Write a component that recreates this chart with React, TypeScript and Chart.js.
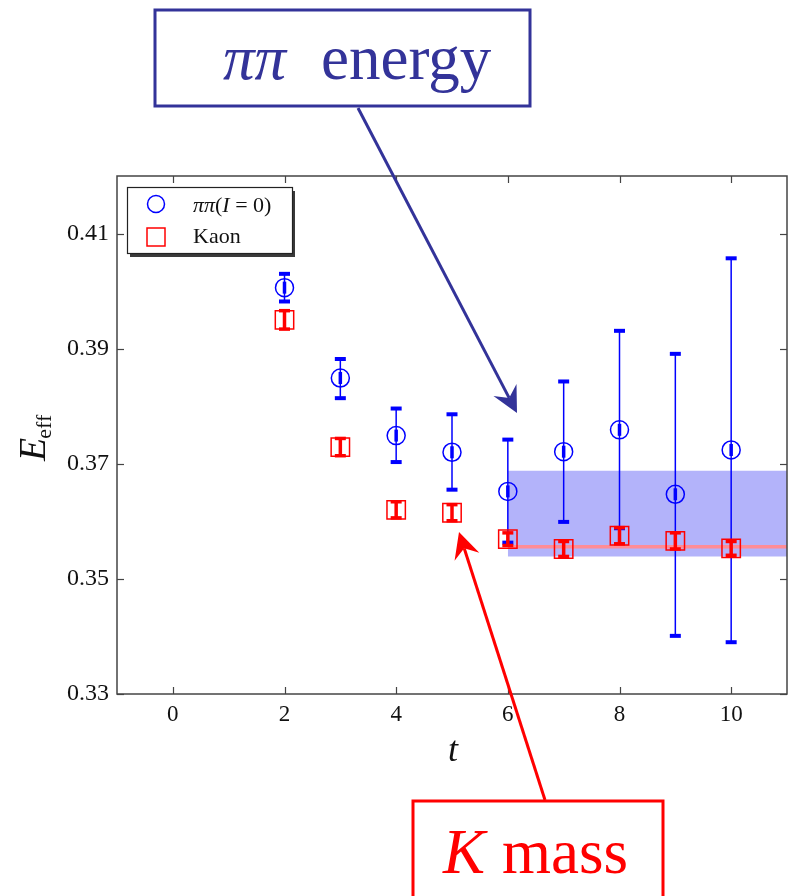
import { useEffect, useRef } from "react";
import { Chart, registerables } from "chart.js";

Chart.register(...registerables);

// ---- data ----
const tValues = [2, 3, 4, 5, 6, 7, 8, 9, 10];
const pipiE = [0.4006, 0.3849, 0.3749, 0.372, 0.3652, 0.3721, 0.3759, 0.3647, 0.3724];
const pipiHigh = [0.403, 0.3882, 0.3796, 0.3786, 0.3742, 0.3843, 0.3931, 0.3891, 0.4057];
const pipiLow = [0.3982, 0.3814, 0.3703, 0.3655, 0.3563, 0.3599, 0.3588, 0.3401, 0.339];
const kaonE = [0.395, 0.3729, 0.362, 0.3615, 0.3569, 0.3552, 0.3575, 0.3566, 0.3553];
const kaonErr = [0.0016, 0.0015, 0.0014, 0.0014, 0.0011, 0.0013, 0.0014, 0.0014, 0.0012];
const fitRange = [6, 11];
const kaonFit = 0.3556;
const pipiBand = [0.3539, 0.3688];
const xTicks = [0, 2, 4, 6, 8, 10];
const yTicks = [0.33, 0.35, 0.37, 0.39, 0.41];
const legendLabels = ["ππ(I = 0)", "Kaon"];

const BLUE = "#0000ff";
const RED = "#ff0000";
const NAVY = "#333399";
const SERIF = '"Liberation Serif", "Times New Roman", serif';

function seg(ctx: CanvasRenderingContext2D, x1: number, y1: number, x2: number, y2: number) {
  ctx.beginPath();
  ctx.moveTo(x1, y1);
  ctx.lineTo(x2, y2);
  ctx.stroke();
}

function arrow(ctx: CanvasRenderingContext2D, x1: number, y1: number, x2: number, y2: number, color: string) {
  const dx = x2 - x1, dy = y2 - y1;
  const L = Math.hypot(dx, dy);
  const ux = dx / L, uy = dy / L;
  const px = -uy, py = ux;
  const headLen = 26, halfW = 13, notch = 17;
  ctx.save();
  ctx.strokeStyle = color;
  ctx.fillStyle = color;
  ctx.lineWidth = 3;
  seg(ctx, x1, y1, x2 - ux * notch, y2 - uy * notch);
  ctx.beginPath();
  ctx.moveTo(x2, y2);
  ctx.lineTo(x2 - ux * headLen + px * halfW, y2 - uy * headLen + py * halfW);
  ctx.lineTo(x2 - ux * notch, y2 - uy * notch);
  ctx.lineTo(x2 - ux * headLen - px * halfW, y2 - uy * headLen - py * halfW);
  ctx.closePath();
  ctx.fill();
  ctx.restore();
}

function drawParts(ctx: CanvasRenderingContext2D, x: number, y: number, parts: [string, string][]) {
  let cx = x;
  for (const [font, txt] of parts) {
    ctx.font = font;
    ctx.fillText(txt, cx, y);
    cx += ctx.measureText(txt).width;
  }
}

const customPlugin = {
  id: "customDecor",
  afterDatasetDraw(chart: any, args: any) {
    if (args.index !== 1) return;
    const ctx: CanvasRenderingContext2D = chart.ctx;
    const xs = chart.scales.x, ys = chart.scales.y;
    ctx.save();
    ctx.strokeStyle = BLUE;
    tValues.forEach((t, i) => {
      const x = xs.getPixelForValue(t);
      const yt = ys.getPixelForValue(pipiHigh[i]);
      const yb = ys.getPixelForValue(pipiLow[i]);
      ctx.lineWidth = 1.5;
      seg(ctx, x, yt, x, yb);
      ctx.lineWidth = 4;
      seg(ctx, x - 5.5, yt, x + 5.5, yt);
      seg(ctx, x - 5.5, yb, x + 5.5, yb);
      ctx.lineWidth = 3.5;
      const yc = ys.getPixelForValue(pipiE[i]);
      seg(ctx, x, yc - 6, x, yc + 6);
    });
    ctx.restore();
  },
  afterDatasetsDraw(chart: any) {
    const ctx: CanvasRenderingContext2D = chart.ctx;
    const xs = chart.scales.x, ys = chart.scales.y;
    const area = chart.chartArea;
    ctx.save();
    // kaon error bars (I shapes)
    ctx.strokeStyle = RED;
    tValues.forEach((t, i) => {
      const x = xs.getPixelForValue(t);
      const yt = ys.getPixelForValue(kaonE[i] + kaonErr[i]);
      const yb = ys.getPixelForValue(kaonE[i] - kaonErr[i]);
      ctx.lineWidth = 3.5;
      seg(ctx, x, yt, x, yb);
      seg(ctx, x - 5.5, yt, x + 5.5, yt);
      seg(ctx, x - 5.5, yb, x + 5.5, yb);
    });

    // frame and inward ticks
    ctx.strokeStyle = "#444";
    ctx.lineWidth = 1.5;
    ctx.strokeRect(area.left, area.top, area.right - area.left, area.bottom - area.top);
    ctx.lineWidth = 1.2;
    xTicks.forEach((v) => {
      const x = Math.round(xs.getPixelForValue(v)) + 0.5;
      seg(ctx, x, area.bottom, x, area.bottom - 7);
      seg(ctx, x, area.top, x, area.top + 7);
    });
    yTicks.forEach((v) => {
      const y = Math.round(ys.getPixelForValue(v)) + 0.5;
      seg(ctx, area.left, y, area.left + 7, y);
      seg(ctx, area.right, y, area.right - 7, y);
    });

    // legend
    const lx = 127, ly = 187, lw = 165, lh = 66;
    ctx.fillStyle = "#3a3a3a";
    ctx.fillRect(lx + 3, ly + 4, lw, lh);
    ctx.fillStyle = "#ffffff";
    ctx.fillRect(lx, ly, lw, lh);
    ctx.strokeStyle = "#222";
    ctx.lineWidth = 1.2;
    ctx.strokeRect(lx + 0.5, ly + 0.5, lw, lh);
    ctx.strokeStyle = BLUE;
    ctx.lineWidth = 1.5;
    ctx.beginPath();
    ctx.arc(156, 204, 8.5, 0, Math.PI * 2);
    ctx.stroke();
    ctx.strokeStyle = RED;
    ctx.strokeRect(147, 228, 18, 18);
    ctx.fillStyle = "#111";
    ctx.textAlign = "left";
    ctx.textBaseline = "alphabetic";
    const piParts = legendLabels[0].match(/^(ππ)\((I)( = 0\))$/);
    if (piParts) {
      drawParts(ctx, 193, 212, [
        [`italic 22px ${SERIF}`, piParts[1]],
        [`22px ${SERIF}`, "("],
        [`italic 22px ${SERIF}`, piParts[2]],
        [`22px ${SERIF}`, piParts[3]],
      ]);
    }
    ctx.font = `22px ${SERIF}`;
    ctx.fillText(legendLabels[1], 193, 243);

    // axis titles
    ctx.fillStyle = "#111";
    ctx.save();
    ctx.translate(45, 461);
    ctx.rotate(-Math.PI / 2);
    ctx.font = `italic 38px ${SERIF}`;
    ctx.fillText("E", 0, 0);
    const ew = ctx.measureText("E").width;
    ctx.font = `22px ${SERIF}`;
    ctx.fillText("eff", ew - 1, 6);
    ctx.restore();
    ctx.font = `italic 36px ${SERIF}`;
    ctx.textAlign = "center";
    ctx.fillText("t", 453, 761);
    ctx.restore();
  },
  afterDraw(chart: any) {
    const ctx: CanvasRenderingContext2D = chart.ctx;
    ctx.save();
    // ππ energy annotation
    ctx.strokeStyle = NAVY;
    ctx.lineWidth = 3;
    ctx.fillStyle = "#ffffff";
    ctx.fillRect(155, 10, 375, 96);
    ctx.strokeRect(155, 10, 375, 96);
    ctx.fillStyle = NAVY;
    ctx.textAlign = "left";
    ctx.textBaseline = "alphabetic";
    ctx.font = `italic 63px ${SERIF}`;
    ctx.fillText("ππ", 223, 79);
    ctx.font = `63px ${SERIF}`;
    ctx.fillText("energy", 321, 79);
    arrow(ctx, 358, 108, 517, 413, NAVY);

    // K mass annotation
    ctx.strokeStyle = RED;
    ctx.lineWidth = 3;
    ctx.fillStyle = "#ffffff";
    ctx.fillRect(413, 801, 250, 110);
    ctx.strokeRect(413, 801, 250, 110);
    ctx.fillStyle = RED;
    ctx.font = `italic 63px ${SERIF}`;
    ctx.fillText("K", 443, 873);
    ctx.font = `63px ${SERIF}`;
    ctx.fillText("mass", 502, 873);
    arrow(ctx, 545, 800, 459, 532, RED);
    ctx.restore();
  },
};

export default function App() {
  const ref = useRef<HTMLCanvasElement | null>(null);
  useEffect(() => {
    document.body.style.margin = "0";
    const canvas = ref.current;
    if (!canvas) return;
    const chart = new Chart(canvas, {
      type: "scatter",
      data: {
        datasets: [
          {
            type: "line",
            label: "band",
            data: fitRange.map((x) => ({ x, y: pipiBand[1] })),
            fill: { value: pipiBand[0] },
            backgroundColor: "#b3b3fa",
            borderWidth: 0,
            pointRadius: 0,
            order: 4,
          },
          {
            type: "line",
            label: "fit",
            data: fitRange.map((x) => ({ x, y: kaonFit })),
            borderColor: "#ff8c96",
            borderWidth: 3.5,
            pointRadius: 0,
            fill: false,
            order: 3,
          },
          {
            label: legendLabels[0],
            data: tValues.map((x, i) => ({ x, y: pipiE[i] })),
            pointStyle: "circle",
            pointRadius: 9,
            borderColor: BLUE,
            backgroundColor: "rgba(0,0,0,0)",
            borderWidth: 1.5,
            order: 1,
          },
          {
            label: legendLabels[1],
            data: tValues.map((x, i) => ({ x, y: kaonE[i] })),
            pointStyle: "rect",
            pointRadius: 13,
            borderColor: RED,
            backgroundColor: "rgba(0,0,0,0)",
            borderWidth: 1.5,
            order: 0,
          },
        ],
      },
      options: {
        animation: false,
        responsive: false,
        events: [],
        layout: { autoPadding: false, padding: { top: 176, right: 1, left: 0, bottom: 0 } },
        plugins: { legend: { display: false }, tooltip: { enabled: false } },
        scales: {
          x: {
            type: "linear",
            min: -1,
            max: 11,
            afterBuildTicks: (s: any) => {
              s.ticks = xTicks.map((value) => ({ value }));
            },
            afterFit: (s: any) => {
              s.height = 202;
              s.paddingLeft = 0;
              s.paddingRight = 0;
            },
            grid: { display: false, drawTicks: false },
            border: { display: false },
            ticks: {
              padding: 7,
              color: "#111",
              font: { family: SERIF, size: 23 },
              callback: (v: any) => String(v),
            },
          },
          y: {
            type: "linear",
            min: 0.33,
            max: 0.42,
            afterBuildTicks: (s: any) => {
              s.ticks = yTicks.map((value) => ({ value }));
            },
            afterFit: (s: any) => {
              s.width = 117;
              s.paddingTop = 0;
              s.paddingBottom = 0;
            },
            grid: { display: false, drawTicks: false },
            border: { display: false },
            ticks: {
              padding: 8,
              color: "#111",
              font: { family: SERIF, size: 24 },
              callback: (v: any) => Number(v).toFixed(2),
            },
          },
        },
      },
      plugins: [customPlugin],
    } as any);
    return () => chart.destroy();
  }, []);
  return (
    <div style={{ position: "absolute", left: 0, top: 0, width: 788, height: 896, background: "#fff" }}>
      <canvas ref={ref} width={788} height={896} style={{ width: 788, height: 896, display: "block" }} />
    </div>
  );
}
